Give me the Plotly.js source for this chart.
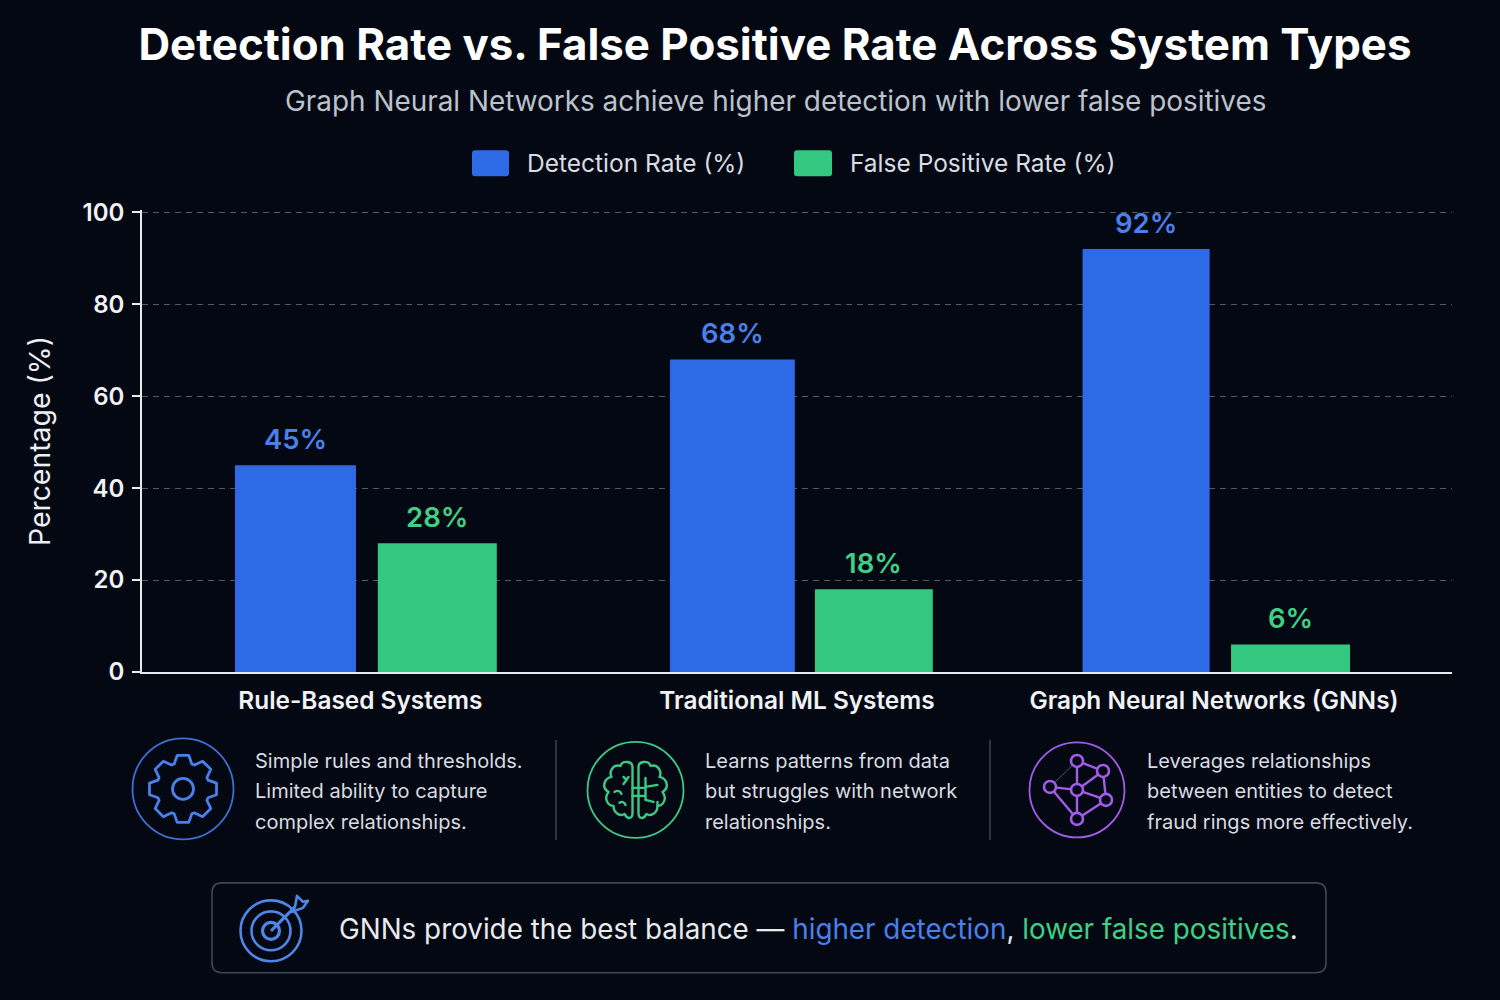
<!DOCTYPE html>
<html>
<head>
<meta charset="utf-8">
<script src="https://cdn.plot.ly/plotly-3.0.1.min.js"></script>
<style>html,body{margin:0;padding:0;background:#030813}#c{width:1500px;height:1000px}</style>
</head>
<body>
<div id="c"></div>
<script>
const categories = ["Rule-Based Systems", "Traditional ML Systems", "Graph Neural Networks (GNNs)"];
const detectionRate = [45, 68, 92];
const falsePositiveRate = [28, 18, 6];
const yTicks = [0, 20, 40, 60, 80, 100];
const seriesNames = ["Detection Rate (%)", "False Positive Rate (%)"];
const chartTitle = "Detection Rate vs. False Positive Rate Across System Types";
const chartSubtitle = "Graph Neural Networks achieve higher detection with lower false positives";
const descriptions = [
  ["Simple rules and thresholds.", "Limited ability to capture", "complex relationships."],
  ["Learns patterns from data", "but struggles with network", "relationships."],
  ["Leverages relationships", "between entities to detect", "fraud rings more effectively."]
];

// layout geometry
const L = 142, R = 1452, T = 209.7, B = 672;
const P = x => (x - L) / (R - L), Q = y => (B - y) / (B - T);
const BG = "#030813", BLUE = "#2f6ae6", GREEN = "#34c77f", BLUE_T = "#4a80ea", GREEN_T = "#3fd086", FONT = "Inter, 'Noto Sans', sans-serif";
const blueOffset = [-0.287, -0.291, -0.346], blueWidth = [0.277, 0.286, 0.291];
const greenOffset = [0.040, 0.041, -0.006], greenWidth = [0.2725, 0.270, 0.2725];
const catTickPos = [0, 1, 1.955];

function rr(x0, y0, x1, y1, r) {
  const X = P, Y = Q;
  return `M${X(x0+r)},${Y(y0)}L${X(x1-r)},${Y(y0)}Q${X(x1)},${Y(y0)} ${X(x1)},${Y(y0+r)}L${X(x1)},${Y(y1-r)}Q${X(x1)},${Y(y1)} ${X(x1-r)},${Y(y1)}L${X(x0+r)},${Y(y1)}Q${X(x0)},${Y(y1)} ${X(x0)},${Y(y1-r)}L${X(x0)},${Y(y0+r)}Q${X(x0)},${Y(y0)} ${X(x0+r)},${Y(y0)}Z`;
}
function note(text, x, y, size, color, anchor, weight) {
  return {text, x: P(x), y: Q(y), xref: "paper", yref: "paper", showarrow: false, xanchor: anchor || "left", yanchor: "middle",
    font: {family: FONT, size, color, weight: weight || 400}};
}
function barLabel(v, i, off, wid, color) {
  return {text: v + "%", x: i + off[i] + wid[i] / 2, y: v, xref: "x", yref: "y", yshift: 26, showarrow: false, xanchor: "center", yanchor: "middle",
    font: {family: FONT, size: 27.5, color, weight: 600}};
}
function icon(cx, cy, size, inner) {
  const s = size / 2;
  const svg = `<svg xmlns="http://www.w3.org/2000/svg" width="${size*3}" height="${size*3}" viewBox="${-s} ${-s} ${size} ${size}">${inner}</svg>`;
  return {source: "data:image/svg+xml;charset=utf-8," + encodeURIComponent(svg), xref: "paper", yref: "paper",
    x: P(cx - s), y: Q(cy - s), sizex: size / (R - L), sizey: size / (B - T), xanchor: "left", yanchor: "top", sizing: "stretch", layer: "above"};
}
function gearPath() {
  const n = 8, ro = 34, ri = 26.5, pts = [];
  for (let i = 0; i < n; i++) {
    const a = i * 2 * Math.PI / n - Math.PI / 2, d = 0.17, d2 = 0.26;
    [[ri, a - d2 - 0.08], [ro, a - d], [ro, a + d], [ri, a + d2 + 0.08]].forEach(p => pts.push((p[0]*Math.cos(p[1])).toFixed(1) + " " + (p[0]*Math.sin(p[1])).toFixed(1)));
  }
  return "M" + pts.join("L") + "Z";
}
const gearSvg = `<g fill="none"><circle r="50.5" stroke="#3f6fd0" stroke-width="1.8"/><path d="${gearPath()}" stroke="#4a80ea" stroke-width="2.8" stroke-linejoin="round"/><circle r="10.5" stroke="#4a80ea" stroke-width="2.8"/></g>`;
const brainHalf = "M-3 -24C-3 -30 -13 -31 -15 -25C-22 -27 -27 -20 -24 -14C-32 -12 -34 -3 -27 1C-32 7 -28 15 -22 15C-22 22 -15 26 -11 23C-8 29 -3 28 -3 22Z";
const brainSvg = `<g fill="none" stroke="#3cc985" stroke-width="2.4" stroke-linecap="round" stroke-linejoin="round"><circle r="48" stroke-width="1.8"/><g transform="translate(0,1)"><path d="${brainHalf}"/><path d="${brainHalf}" transform="scale(-1,1)"/><path d="M-3 -3H8M-3 5H8M10 -13V9L18 11M10 -4L22 -6M22 11V15"/><path d="M-12 -14L-9 -11L-12 -7M-9 -11L-7 -14M-21 1C-18 -1 -15 0 -14 3M-16 12C-14 10 -11 11 -10 14"/></g></g>`;
const netN = [[0,-29],[26,-19],[-27,-3],[0,0],[29,10],[0,29]];
const netE = [[0,1],[0,3],[1,3],[1,4],[2,3],[2,5],[3,4],[3,5],[4,5],[0,2]];
const netSvg = `<g fill="none" stroke="#a35ce8"><circle r="47.5" stroke-width="1.8"/>` +
  netE.map((e, i) => `<line x1="${netN[e[0]][0]}" y1="${netN[e[0]][1]}" x2="${netN[e[1]][0]}" y2="${netN[e[1]][1]}" stroke-width="${i==9?1:2.4}" ${i==9?'stroke="#555a70"':''}/>`).join("") +
  netN.map(n => `<circle cx="${n[0]}" cy="${n[1]}" r="6" stroke-width="2.6" fill="${BG}"/>`).join("") + `</g>`;
const targetSvg = `<g fill="none" stroke="#4f86e8" stroke-width="2.6" stroke-linejoin="round"><circle cx="-2" cy="2" r="30.5"/><circle cx="-2" cy="2" r="19.5"/><circle cx="-2" cy="2" r="8.5" stroke-width="3.2"/><path d="M-2 2L22 -22" stroke-width="3"/><path d="M22 -22L24 -33L30 -27L35 -28L30 -21L19 -17Z" fill="${BG}" stroke-width="2.6"/></g>`;

const traces = [
  {type: "bar", name: seriesNames[0], x: categories, y: detectionRate, offset: blueOffset, width: blueWidth, marker: {color: BLUE, line: {width: 0}}},
  {type: "bar", name: seriesNames[1], x: categories, y: falsePositiveRate, offset: greenOffset, width: greenWidth, marker: {color: GREEN, line: {width: 0}}}
];

const annotations = [
  note(chartSubtitle, 775, 101, 27.9, "#bcc2cc", "center"),
  note(seriesNames[0], 525, 163, 24.5, "#d9dce2"),
  note(seriesNames[1], 848, 163, 24.5, "#d9dce2"),
  note(`GNNs provide the best balance — <span style="color:${BLUE_T}">higher detection</span>, <span style="color:${GREEN_T}">lower false positives</span>.`, 337, 929, 27.8, "#e8eaee")
];
[253, 703, 1145].forEach((x, i) => descriptions[i].forEach((t, j) => annotations.push(note(t, x, 761 + j * 30.5, 20, "#d9dce2"))));
detectionRate.forEach((v, i) => annotations.push(barLabel(v, i, blueOffset, blueWidth, BLUE_T)));
falsePositiveRate.forEach((v, i) => annotations.push(barLabel(v, i, greenOffset, greenWidth, GREEN_T)));

const lineStyle = {color: "#3b4350", width: 1.5};
const shapes = [
  {type: "path", xref: "paper", yref: "paper", path: rr(472, 150, 509, 176, 3), fillcolor: BLUE, line: {width: 0}},
  {type: "path", xref: "paper", yref: "paper", path: rr(794, 150, 832, 176, 3), fillcolor: GREEN, line: {width: 0}},
  {type: "line", xref: "paper", yref: "paper", x0: P(556), x1: P(556), y0: Q(740), y1: Q(840), line: lineStyle},
  {type: "line", xref: "paper", yref: "paper", x0: P(990), x1: P(990), y0: Q(740), y1: Q(840), line: lineStyle},
  {type: "path", xref: "paper", yref: "paper", path: rr(212, 883, 1326, 973, 10), fillcolor: "rgba(0,0,0,0)", line: {color: "#3f4654", width: 1.6}}
];

const layout = {
  width: 1500, height: 1000, paper_bgcolor: BG, plot_bgcolor: BG, showlegend: false, barmode: "overlay",
  margin: {l: L, r: 1500 - R, t: T, b: 1000 - B, pad: 0},
  font: {family: FONT, color: "#ffffff"},
  title: {text: chartTitle, x: 775 / 1500, xanchor: "center", xref: "container", y: 1 - 45 / 1000, yref: "container", yanchor: "middle",
    font: {family: FONT, size: 43.85, color: "#ffffff", weight: 700}},
  xaxis: {type: "category", range: [-0.5, 2.5], tickmode: "array", tickvals: catTickPos, ticktext: categories, ticks: "", showgrid: false, ticklabelstandoff: 6,
    showline: true, linecolor: "#e8eaee", linewidth: 1.6, zeroline: false, tickfont: {family: FONT, size: 24.4, color: "#f0f2f5", weight: 600}, automargin: false},
  yaxis: {range: [0, 100.5], tickmode: "array", tickvals: yTicks, ticks: "outside", ticklen: 8, tickwidth: 1.5, tickcolor: "#e8eaee", ticklabelstandoff: 3,
    showline: true, linecolor: "#e8eaee", linewidth: 1.6, zeroline: false, showgrid: true, gridcolor: "#525a68", griddash: "6px,5px", gridwidth: 1.3,
    tickfont: {family: FONT, size: 24, color: "#f0f2f5", weight: 600}, automargin: false,
    title: {text: "Percentage (%)", standoff: 24, font: {family: FONT, size: 28.4, color: "#eceef2"}}},
  shapes, annotations,
  images: [icon(183, 789, 106, gearSvg), icon(635.5, 790, 102, brainSvg), icon(1077, 790, 102, netSvg), icon(273, 929, 76, targetSvg)]
};
Plotly.newPlot("c", traces, layout, {displayModeBar: false, responsive: false});
</script>
</body>
</html>
